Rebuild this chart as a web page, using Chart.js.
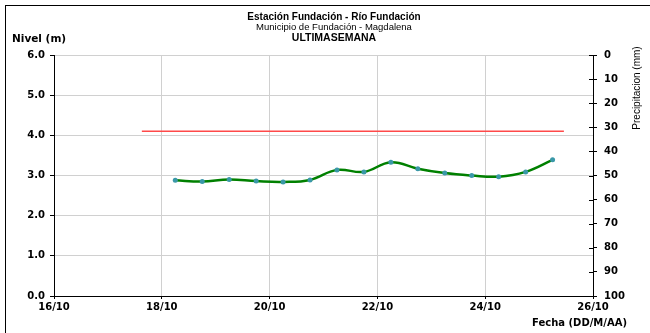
<!DOCTYPE html>
<html>
<head>
<meta charset="utf-8">
<script src="https://cdn.jsdelivr.net/npm/chart.js@4"></script>
<style>
  html, body { margin: 0; padding: 0; background: #fff; }
  #wrap { position: relative; width: 650px; height: 333px; }
  #frame { position: absolute; left: 5px; top: 5px; width: 645px; height: 330px; border-left: 1px solid #000; border-top: 1px solid #000; box-sizing: border-box; }
</style>
</head>
<body>
<div id="wrap">
  <canvas id="chart" width="650" height="333"></canvas>
  <div id="frame"></div>
</div>
<script>
// fechas (dia de octubre, fraccion = hora) y niveles
const fechas = [18.25, 18.75, 19.25, 19.75, 20.25, 20.75, 21.25, 21.75, 22.25, 22.75, 23.25, 23.75, 24.25, 24.75, 25.25];
const niveles = [2.88, 2.85, 2.90, 2.86, 2.84, 2.89, 3.14, 3.09, 3.33, 3.17, 3.06, 3.00, 2.97, 3.09, 3.39];
// nivel de alerta
const alertaFechas = [17.63, 25.46];
const alertaNivel = [4.10, 4.10];
const ticksFecha = [16, 18, 20, 22, 24, 26];

const FONT = 'Liberation Sans, Arial, sans-serif';
const EJE = '"DejaVu Sans", sans-serif';

const textos = {
  id: 'textos',
  afterDraw(chart) {
    const ctx = chart.ctx;
    ctx.save();
    ctx.fillStyle = '#000';
    ctx.textBaseline = 'alphabetic';
    ctx.textAlign = 'center';
    ctx.font = 'bold 10px ' + FONT;
    ctx.fillText('Estación Fundación - Río Fundación', 334, 20);
    ctx.font = '9.5px ' + FONT;
    ctx.fillText('Municipio de Fundación - Magdalena', 334, 30);
    ctx.font = 'bold 10.5px ' + FONT;
    ctx.fillText('ULTIMASEMANA', 334, 41);
    ctx.textAlign = 'left';
    ctx.font = 'bold 10.5px ' + EJE;
    ctx.fillText('Nivel (m)', 12, 42);
    ctx.textAlign = 'right';
    ctx.font = 'bold 10px ' + EJE;
    ctx.fillText('Fecha (DD/M/AA)', 627, 326);
    // titulo eje derecho
    ctx.translate(640, 88);
    ctx.rotate(-Math.PI / 2);
    ctx.textAlign = 'center';
    ctx.font = '10px "Liberation Sans Narrow", ' + FONT;
    ctx.fillText('Precipitacion (mm)', 0, 0);
    ctx.restore();

    // marcas interiores del eje de precipitacion
    const y2 = chart.scales.y2;
    ctx.save();
    ctx.strokeStyle = '#000';
    ctx.lineWidth = 1;
    ctx.beginPath();
    y2.ticks.forEach((t) => {
      const py = Math.round(y2.getPixelForValue(t.value)) + 0.5;
      ctx.moveTo(y2.left - 4, py);
      ctx.lineTo(y2.left, py);
    });
    ctx.stroke();
    ctx.restore();
  }
};

new Chart(document.getElementById('chart'), {
  type: 'line',
  data: {
    datasets: [
      {
        label: 'Alerta',
        data: alertaFechas.map((x, i) => ({x: x, y: alertaNivel[i]})),
        borderColor: '#ff4a4a',
        borderWidth: 1.5,
        pointRadius: 0,
        tension: 0
      },
      {
        label: 'Nivel',
        data: fechas.map((x, i) => ({x: x, y: niveles[i]})),
        borderColor: '#008000',
        borderWidth: 2.5,
        pointRadius: 2.5,
        pointBackgroundColor: '#3a98a8',
        pointBorderWidth: 0,
        tension: 0.4
      }
    ]
  },
  options: {
    responsive: false,
    animation: false,
    layout: {padding: {top: 55, left: 0, right: 0, bottom: 0}},
    plugins: {legend: {display: false}, title: {display: false}, tooltip: {enabled: false}},
    scales: {
      x: {
        type: 'linear',
        min: 16,
        max: 26,
        afterFit: (s) => { s.height = 37; },
        afterBuildTicks: (s) => { s.ticks = ticksFecha.map((v) => ({value: v})); },
        ticks: {
          callback: (v) => v + '/10',
          color: '#000',
          font: {family: EJE, size: 10, weight: 'bold'},
          padding: 2,
          maxRotation: 0
        },
        grid: {color: '#d0d0d0', tickColor: '#000', tickLength: 3, lineWidth: 1},
        border: {color: '#000', width: 1}
      },
      y: {
        position: 'left',
        min: 0,
        max: 6,
        afterFit: (s) => { s.width = 54; },
        ticks: {
          stepSize: 1,
          callback: (v) => v.toFixed(1),
          color: '#000',
          font: {family: EJE, size: 10, weight: 'bold'},
          padding: 5
        },
        grid: {color: '#d0d0d0', tickColor: '#000', tickLength: 4},
        border: {color: '#000', width: 1}
      },
      y2: {
        position: 'right',
        reverse: true,
        min: 0,
        max: 100,
        afterFit: (s) => { s.width = 57; },
        ticks: {
          stepSize: 10,
          color: '#000',
          font: {family: EJE, size: 10, weight: 'bold'},
          padding: 7
        },
        grid: {drawOnChartArea: false, tickColor: '#000', tickLength: 4},
        border: {color: '#000', width: 1}
      }
    }
  },
  plugins: [textos]
});
</script>
</body>
</html>
